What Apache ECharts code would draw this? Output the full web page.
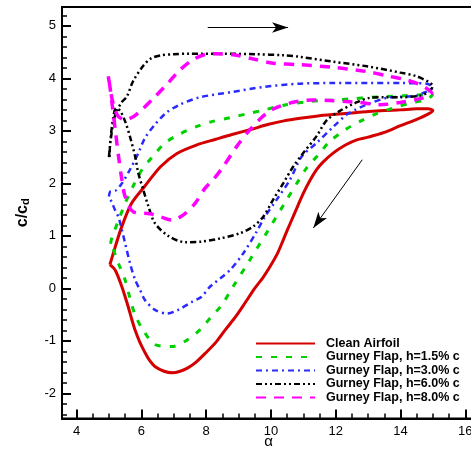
<!DOCTYPE html>
<html>
<head>
<meta charset="utf-8">
<script src="https://cdn.jsdelivr.net/npm/echarts@6/dist/echarts.min.js"></script>
<style>
html, body { margin: 0; padding: 0; background: #fff; }
#chart { width: 471px; height: 451px; }
</style>
</head>
<body>
<div id="chart"></div>
<script>
var seriesNames = ['Clean Airfoil', 'Gurney Flap, h=1.5% c', 'Gurney Flap, h=3.0% c', 'Gurney Flap, h=6.0% c', 'Gurney Flap, h=8.0% c'];

// hysteresis loops: upstroke (alpha increasing) then downstroke back
var cleanAirfoil = [
	[5.03,0.45],[5.2,0.8],[5.4,1.18],[5.7,1.62],[6.1,1.94],[6.6,2.32],[7.1,2.57],[7.7,2.73],[8.3,2.84],[8.8,2.93],
	[9.4,3.03],[9.9,3.12],[10.4,3.19],[10.9,3.24],[11.4,3.28],[11.9,3.31],[12.5,3.34],[13.0,3.37],[13.5,3.39],[14.0,3.40],
	[14.5,3.42],[14.85,3.42],[15.0,3.39],
	[14.85,3.32],[14.5,3.22],[14.0,3.10],[13.5,2.97],[13.0,2.88],[12.65,2.83],[12.3,2.73],[11.93,2.58],[11.6,2.40],
	[11.41,2.26],[11.2,2.05],[11.0,1.81],[10.85,1.6],[10.69,1.37],[10.5,1.1],[10.38,0.92],[10.2,0.66],[9.97,0.41],
	[9.75,0.2],[9.5,0.0],[9.2,-0.28],[8.9,-0.55],[8.58,-0.80],[8.3,-1.03],[7.97,-1.24],[7.7,-1.40],[7.45,-1.51],
	[7.2,-1.58],[6.95,-1.61],[6.7,-1.58],[6.42,-1.49],[6.25,-1.37],[6.11,-1.22],[5.95,-1.02],[5.81,-0.80],[5.7,-0.58],
	[5.6,-0.36],[5.5,-0.16],[5.4,0.03],[5.2,0.34],[5.03,0.45]
];
var gurney15 = [
	[5.05,0.85],[5.1,0.98],[5.3,1.3],[5.5,1.62],[5.75,1.95],[6.02,2.26],[6.35,2.51],[6.73,2.77],[7.19,2.94],[7.7,3.08],
	[8.2,3.18],[8.74,3.25],[9.3,3.33],[9.8,3.40],[10.4,3.49],[11.2,3.56],[11.9,3.59],[12.5,3.61],[13.1,3.64],[14.1,3.67],
	[14.7,3.69],[15.0,3.70],
	[14.95,3.66],[14.76,3.59],[14.3,3.53],[13.8,3.44],[13.27,3.33],[12.75,3.18],[12.29,3.02],[11.82,2.80],[11.46,2.54],
	[11.1,2.29],[10.8,2.0],[10.49,1.69],[9.92,1.11],[9.35,0.54],[8.8,0.0],[8.48,-0.32],[8.12,-0.57],[7.86,-0.76],
	[7.45,-0.97],[6.94,-1.11],[6.42,-1.07],[6.06,-0.80],[5.81,-0.51],[5.65,-0.19],[5.5,0.16],[5.29,0.48],[5.1,0.8],[5.05,0.85]
];
var gurney30 = [
	[5.0,1.75],[5.05,1.85],[5.2,1.86],[5.4,2.0],[5.65,2.26],[5.91,2.58],[6.11,2.86],[6.42,3.12],[6.78,3.35],[7.19,3.50],
	[7.81,3.64],[8.8,3.74],[9.8,3.84],[10.9,3.90],[11.9,3.91],[13.0,3.91],[14.0,3.91],[14.8,3.90],[15.0,3.82],
	[14.8,3.75],[14.5,3.67],[14.0,3.65],[13.57,3.63],[12.96,3.50],[12.6,3.40],[12.34,3.31],[11.93,3.08],[11.41,2.77],
	[10.95,2.51],[10.59,2.07],[10.18,1.69],[9.82,1.37],[9.56,1.08],[9.15,0.67],[8.74,0.35],[8.12,0.03],[7.86,-0.16],
	[7.56,-0.26],[7.14,-0.41],[6.8,-0.48],[6.42,-0.41],[6.11,-0.22],[5.96,-0.03],[5.81,0.16],[5.65,0.48],[5.5,0.86],
	[5.4,1.11],[5.3,1.35],[5.19,1.49],[5.08,1.65],[5.0,1.75]
];
var gurney60 = [
	[5.0,2.5],[5.05,2.8],[5.12,3.1],[5.22,3.35],[5.4,3.55],[5.55,3.65],[5.75,3.95],[6.06,4.24],[6.3,4.38],[6.6,4.44],
	[7.0,4.46],[7.5,4.47],[8.5,4.47],[9.5,4.46],[10.4,4.44],[10.9,4.41],[11.9,4.32],[12.96,4.23],[14.0,4.11],[14.5,4.04],
	[14.9,3.92],[15.0,3.85],
	[14.8,3.72],[14.6,3.67],[14.0,3.64],[13.5,3.64],[13.06,3.63],[12.6,3.53],[12.13,3.38],[11.72,3.2],[11.41,2.9],
	[11.0,2.58],[10.69,2.32],[10.38,2.0],[10.07,1.69],[9.77,1.37],[9.46,1.18],[9.05,1.05],[8.43,0.95],[7.86,0.89],
	[7.35,0.88],[6.83,1.0],[6.42,1.24],[6.22,1.56],[6.06,1.88],[5.91,2.19],[5.81,2.51],[5.65,2.89],[5.5,3.18],
	[5.35,3.38],[5.22,3.43],[5.12,3.2],[5.06,2.9],[5.03,2.7],[5.02,2.5]
];
var gurney80 = [
	[4.98,4.04],[5.03,3.85],[5.1,3.6],[5.2,3.38],[5.3,3.27],[5.5,3.21],[5.75,3.27],[5.96,3.37],[6.37,3.62],[6.78,3.88],
	[7.19,4.16],[7.6,4.36],[8.0,4.46],[8.3,4.47],[8.84,4.45],[9.46,4.37],[10.07,4.29],[10.9,4.26],[11.93,4.21],
	[12.96,4.13],[13.57,4.05],[14.19,3.97],[14.6,3.88],[14.96,3.72],
	[14.7,3.63],[13.98,3.54],[13.37,3.50],[12.75,3.54],[12.3,3.56],[11.8,3.58],[11.31,3.59],[10.8,3.56],[10.28,3.47],
	[9.87,3.34],[9.35,3.02],[8.94,2.70],[8.53,2.32],[8.22,2.07],[7.97,1.91],[7.66,1.62],[7.3,1.40],[6.95,1.30],
	[6.6,1.36],[6.27,1.42],[5.75,1.46],[5.5,1.75],[5.4,2.07],[5.3,2.5],[5.2,3.0],[5.1,3.5],[5.03,3.85],[4.98,4.04]
];

var xLimits = [3.552, 16.3];
var yLimits = [-2.48, 5.36];

// direction arrows [from, to] in data units
var arrowUp = [[8.05, 4.97], [10.53, 4.97]];
var arrowDown = [[12.82, 2.45], [11.31, 1.15]];

var allData = [cleanAirfoil, gurney15, gurney30, gurney60, gurney80];
var colors = ['#d40000', '#00d000', '#2a2aff', '#000000', '#ff00ff'];
var widths = [3, 3, 2.5, 2.5, 3.5];
var dashes = ['solid', [6, 9], [6, 4, 2, 4], [6, 3, 2, 3, 2, 3], [10, 8]];

var chart = echarts.init(document.getElementById('chart'));

var series = [];
for (var i = 0; i < allData.length; i++) {
	series.push({
		name: seriesNames[i],
		type: 'line',
		data: allData[i],
		symbol: 'none',
		smooth: 0.3,
		color: colors[i],
		lineStyle: { color: colors[i], width: widths[i], type: dashes[i] },
		z: 2 + i
	});
}
series[0].markLine = {
	silent: true,
	symbol: ['none', 'arrow'],
	symbolSize: [8, 16],
	label: { show: false },
	lineStyle: { color: '#000', width: 1, type: 'solid' },
	data: [
		[{ coord: arrowUp[0] }, { coord: arrowUp[1] }],
		[{ coord: arrowDown[0] }, { coord: arrowDown[1] }]
	]
};

var option = {
	animation: false,
	backgroundColor: '#fff',
	textStyle: { fontFamily: 'Liberation Sans, Arial, sans-serif' },
	grid: {
		left: 62, top: 7, width: 413, height: 411.5,
		outerBoundsMode: 'none',
		containLabel: false,
		show: true, borderColor: '#000', borderWidth: 2
	},
	legend: {
		orient: 'vertical',
		left: 255, top: 337,
		padding: 0,
		itemWidth: 59, itemHeight: 10, itemGap: 0.5,
		itemStyle: { opacity: 0, borderWidth: 0 },
		data: seriesNames,
		textStyle: { color: '#000', fontSize: 12.5, fontWeight: 'bold', lineHeight: 10, padding: [0, 0, 0, 6] }
	},
	xAxis: {
		type: 'value',
		min: xLimits[0], max: xLimits[1],
		minInterval: 2, maxInterval: 2,
		name: 'α',
		nameLocation: 'middle',
		nameGap: 16,
		nameMoveOverlap: false,
		nameTextStyle: { color: '#000', fontSize: 15 },
		axisLine: { show: true, onZero: false, lineStyle: { color: '#000', width: 2 } },
		axisTick: { show: true, inside: true, length: 9, lineStyle: { color: '#000', width: 2 } },
		minorTick: { show: true, splitNumber: 4, length: 5, lineStyle: { color: '#000', width: 1.5 } },
		axisLabel: { color: '#000', fontSize: 13, margin: 6, showMinLabel: false, showMaxLabel: false },
		splitLine: { show: false }
	},
	yAxis: {
		type: 'value',
		min: yLimits[0], max: yLimits[1],
		minInterval: 1, maxInterval: 1,
		name: '{a|c/c}{b|d}',
		nameLocation: 'middle',
		nameRotate: 90,
		nameGap: 31,
		nameMoveOverlap: false,
		nameTextStyle: {
			rich: {
				a: { fontSize: 16, fontWeight: 'bold', color: '#000' },
				b: { fontSize: 11, fontWeight: 'bold', color: '#000', verticalAlign: 'bottom', padding: [6, 0, 0, 0] }
			}
		},
		axisLine: { show: true, onZero: false, lineStyle: { color: '#000', width: 2 } },
		axisTick: { show: true, inside: true, length: 9, lineStyle: { color: '#000', width: 2 } },
		minorTick: { show: true, splitNumber: 5, length: 5, lineStyle: { color: '#000', width: 1.5 } },
		axisLabel: { color: '#000', fontSize: 13, margin: 6, showMinLabel: false, showMaxLabel: false },
		splitLine: { show: false }
	},
	series: series
};

chart.setOption(option);
</script>
</body>
</html>
